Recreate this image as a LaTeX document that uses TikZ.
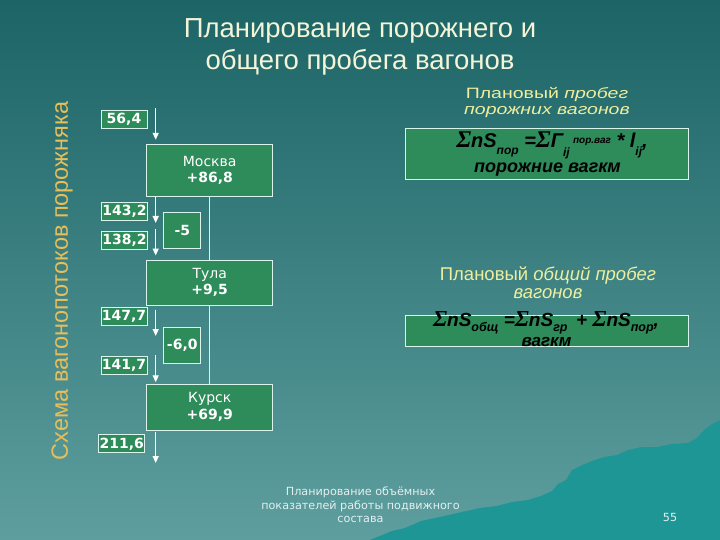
\documentclass[tikz,border=0pt]{standalone}
\usepackage{fontspec}
\setmainfont{Liberation Sans}
\newfontfamily\boxfont{DejaVu Sans}
\newfontfamily\sigmafont{Liberation Serif}
\newfontfamily\widefont[FakeStretch=1.3]{Liberation Sans}
\usetikzlibrary{arrows.meta}
\definecolor{bgtop}{HTML}{1C6466}
\definecolor{bgbottom}{HTML}{5E9E9E}
\definecolor{tornteal}{HTML}{1E9696}
\definecolor{boxgreen}{HTML}{2E8B5A}
\definecolor{boxline}{HTML}{D8F4EC}
\definecolor{titlecol}{HTML}{F4F4D8}
\definecolor{headcol}{HTML}{EEEE9E}
\definecolor{sidecol}{HTML}{E6BE5A}
\definecolor{footcol}{HTML}{E4F0F0}
\newcommand{\bigsum}{\scalebox{1.2}{\sigmafont\bfseries\itshape Σ}}
% index text: drop (pt), size (pt), text
\newcommand{\idx}[3]{\raisebox{-#1pt}{\fontsize{#2}{#2}\selectfont #3}}
\begin{document}
\begin{tikzpicture}[x=1pt, y=-1pt,
    stationbox/.style={draw=boxline, line width=1pt, fill=boxgreen, text=white,
        minimum width=126pt, align=center, inner sep=0pt,
        font=\boxfont\fontsize{14}{16.7}\selectfont},
    flowbox/.style={draw=boxline, line width=1pt, fill=boxgreen, text=white,
        minimum width=46pt, minimum height=18pt, inner sep=0pt,
        font=\boxfont\bfseries\fontsize{14}{14}\selectfont},
    deltabox/.style={draw=boxline, line width=1pt, fill=boxgreen, text=white,
        minimum width=36.7pt, minimum height=36.4pt, inner sep=0pt,
        font=\boxfont\bfseries\fontsize{14}{14}\selectfont},
    formulabox/.style={draw=boxline, line width=1pt, fill=boxgreen,
        minimum width=283pt, inner sep=0pt},
    formula/.style={text=black, anchor=base, inner sep=0pt, font=\bfseries\itshape},
    flowarrow/.style={draw=white, line width=1.4pt, -{Triangle[length=7pt,width=6pt]}},
    linkline/.style={draw=boxline, line width=1pt}]
  \useasboundingbox (0,0) rectangle (720,540);
  % background
  \shade[top color=bgtop, bottom color=bgbottom] (0,0) rectangle (720,540);
  \fill[tornteal] (370,540) -- (392,531) -- (405,528) -- (421,521) -- (440,517) -- (462,512)
      -- (480,508) -- (497,506) -- (512,502) -- (528,500) -- (541,496) -- (552,491)
      -- (558,484) -- (566,480) -- (572,470) -- (580,466) -- (592,461) -- (604,457)
      -- (617,455) -- (628,450) -- (642,447) -- (657,447) -- (672,444) -- (688,443)
      -- (697,438) -- (704,430) -- (712,424) -- (720,420) -- (720,540) -- cycle;
  % titles
  \node[text=titlecol, align=center, font=\fontsize{27.5}{32.4}\selectfont] (title) at (360,47)
      {Планирование порожнего и\\общего пробега вагонов};
  \node[text=sidecol, rotate=90, font=\fontsize{23.5}{23.5}\selectfont] (side) at (62,281)
      {Схема вагонопотоков порожняка};
  % stations
  \node[stationbox, minimum height=52.4pt] (moscow) at (209.7,170.5) {Москва\\\textbf{+86,8}};
  \node[stationbox, minimum height=45pt] (tula) at (209.7,282.5) {Тула\\\textbf{+9,5}};
  \node[stationbox, minimum height=45.7pt] (kursk) at (209.7,407.2) {Курск\\\textbf{+69,9}};
  \draw[linkline] (moscow.south) -- (tula.north);
  \draw[linkline] (tula.south) -- (kursk.north);
  % flows
  \node[flowbox] (f564) at (124,119.5) {56,4};
  \node[flowbox] (f1432) at (124.5,211.7) {143,2};
  \node[flowbox] (f1382) at (124.5,240.3) {138,2};
  \node[flowbox] (f1477) at (124,316.7) {147,7};
  \node[flowbox] (f1417) at (124,365.8) {141,7};
  \node[flowbox] (f2116) at (121.8,443.8) {211,6};
  \node[deltabox] (d5) at (182.3,230.5) {-5};
  \node[deltabox] (d60) at (182.3,345.5) {-6,0};
  % arrows
  \coordinate (in0) at (155.7,108);
  \coordinate (mid1) at (155.7,223);
  \coordinate (mid1b) at (155.7,229.3);
  \coordinate (mid2) at (155.7,336);
  \coordinate (mid2b) at (155.7,355);
  \coordinate (out0) at (155.7,463);
  \draw[flowarrow, shorten >=4pt] (in0) -- (in0 |- moscow.north);
  \draw[flowarrow] (in0 |- moscow.south) -- (mid1);
  \draw[flowarrow, shorten >=4pt] (mid1b) -- (mid1b |- tula.north);
  \draw[flowarrow, shorten <=4pt] (in0 |- tula.south) -- (mid2);
  \draw[flowarrow, shorten >=1.6pt] (mid2b) -- (mid2b |- kursk.north);
  \draw[flowarrow, shorten <=1.7pt] (in0 |- kursk.south) -- (out0);
  % empty run
  \node[text=headcol, align=center, font=\widefont\fontsize{15}{16}\selectfont] (headempty) at (547,102)
      {Плановый \textit{пробег}\\\textit{порожних вагонов}};
  \node[formulabox, minimum height=51pt] (fempty) at (546.8,153.8) {};
  \node[formula, font=\bfseries\itshape\fontsize{20}{20}\selectfont] (femptyup) at (552,148)
      {\bigsum nS\idx{7}{12}{пор} =\bigsum Г\idx{9}{12}{ij}\,\idx{-4}{10}{пор.ваг} * l\idx{8}{12}{ij},};
  \node[formula, font=\bfseries\itshape\fontsize{18}{18}\selectfont] (femptydown) at (547.5,173)
      {порожние вагкм};
  % total run
  \node[text=headcol, align=center, font=\fontsize{18.5}{18}\selectfont] (headtotal) at (548,283)
      {Плановый \textit{общий пробег}\\\textit{вагонов}};
  \node[formulabox, minimum height=31pt] (ftotal) at (546.8,330.5) {};
  \node[formula, font=\bfseries\itshape\fontsize{19}{19}\selectfont] (ftotalup) at (546,326)
      {\bigsum nS\idx{5}{12.5}{общ} =\bigsum nS\idx{5}{12.5}{гр} \,+ \bigsum nS\idx{5}{12.5}{пор},};
  \node[formula, font=\bfseries\itshape\fontsize{17}{17}\selectfont] (ftotaldown) at (546.5,346)
      {вагкм};
  % footer
  \node[text=footcol, align=center, font=\boxfont\fontsize{11.2}{13.3}\selectfont] (footer) at (360.5,505)
      {Планирование объёмных\\показателей работы подвижного\\состава};
  \node[text=footcol, font=\boxfont\fontsize{11.2}{13.3}\selectfont] (page) at (670,517) {55};
\end{tikzpicture}
\end{document}
